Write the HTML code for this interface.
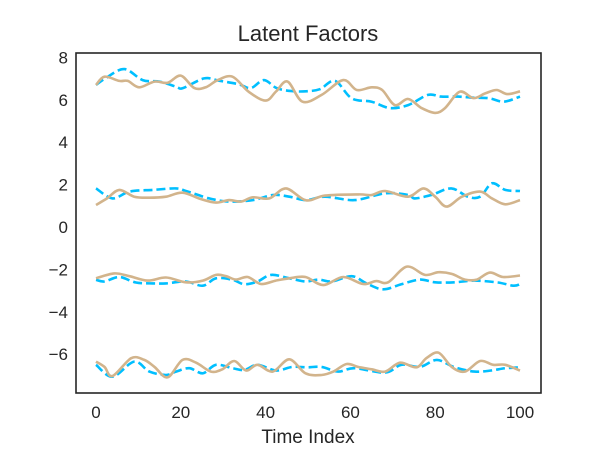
<!DOCTYPE html>
<html><head><meta charset="utf-8"><style>
body{margin:0;background:#fff;}
svg{font-family:"Liberation Sans",sans-serif;}
</style></head><body>
<svg id="chart" width="600" height="450" viewBox="0 0 600 450" xmlns="http://www.w3.org/2000/svg">
<rect x="0" y="0" width="600" height="450" fill="#fff"/>
<text x="308" y="41" font-size="22" fill="#262626" text-anchor="middle">Latent Factors</text>
<text x="308" y="443" font-size="19" fill="#262626" text-anchor="middle">Time Index</text>
<g id="plot"></g>
<rect x="76" y="53" width="465" height="340" fill="none" stroke="#262626" stroke-width="1.6"/>
</svg>
<script>
const xTicks=[0,20,40,60,80,100];
const yTicks=[8,6,4,2,0,-2,-4,-6];
const yTickLabels=["8","6","4","2","0","\u22122","\u22124","\u22126"];
const tanTop=[[0,6.7],[2,7.09],[5.5,6.89],[7.5,6.89],[10.2,6.59],[13.8,6.86],[16.9,6.8],[20,7.14],[23.2,6.55],[26,6.6],[28.7,6.93],[32.2,7.09],[36,6.38],[40,5.96],[42.5,6.4],[45.2,6.86],[48.7,5.91],[53.2,6.23],[58.3,6.93],[61.5,6.46],[65,6.59],[67.5,6.46],[70.5,5.75],[73.6,6.04],[76.8,5.61],[80,5.38],[82.3,5.61],[85.8,6.38],[89,6.08],[91.8,6.3],[94.5,6.46],[97,6.27],[100,6.4]];
const blueTop=[[0,6.7],[2.4,7.04],[6.7,7.45],[11,6.93],[15,6.86],[18.9,6.62],[20.5,6.55],[25.5,7.01],[29,6.9],[33.7,6.73],[36.5,6.55],[39.6,6.93],[42.6,6.55],[46.2,6.41],[49.5,6.4],[52.8,6.5],[56.4,6.89],[60.3,6.07],[65,5.91],[69.3,5.61],[73.6,5.75],[78.3,6.23],[81.4,6.15],[85.4,6.15],[89,6.1],[92.8,6.07],[96.2,5.91],[100,6.15]];
const tanMid=[[0,1.04],[2.6,1.35],[5.5,1.75],[9,1.43],[12.6,1.38],[16.5,1.43],[20.4,1.62],[24.7,1.32],[28.3,1.15],[31.4,1.27],[34.2,1.2],[37,1.4],[40.9,1.35],[44.8,1.82],[49.5,1.26],[54,1.48],[61.9,1.54],[65,1.51],[68.2,1.7],[73.6,1.43],[77.2,1.82],[80,1.43],[82.7,0.96],[86.3,1.43],[90.6,1.67],[93.4,1.35],[96.5,1.07],[100,1.27]];
const blueMid=[[0,1.82],[3.9,1.35],[7.9,1.67],[13.4,1.75],[18.9,1.82],[21.2,1.7],[26.7,1.35],[31.4,1.2],[37,1.27],[41.7,1.51],[45.6,1.43],[49.5,1.27],[54,1.43],[61,1.27],[68.2,1.59],[73.6,1.51],[75.2,1.35],[79.1,1.51],[83.8,1.82],[87.7,1.43],[90.6,1.43],[93.4,2.06],[96.5,1.75],[100,1.7]];
const tanLow=[[0,-2.42],[4.3,-2.19],[7.9,-2.32],[12.2,-2.53],[16.5,-2.38],[21.2,-2.61],[25.2,-2.53],[28.3,-2.26],[30.7,-2.32],[33,-2.48],[35.8,-2.36],[38.9,-2.69],[42.4,-2.53],[45.6,-2.42],[49.4,-2.36],[53.6,-2.74],[58.3,-2.36],[63,-2.69],[66.1,-2.55],[68.9,-2.61],[73.3,-1.87],[77.6,-2.26],[80.8,-2.13],[83.9,-2.21],[87,-2.48],[89.8,-2.48],[92.9,-2.15],[96,-2.36],[100,-2.29]];
const blueLow=[[0,-2.49],[2,-2.57],[5.5,-2.36],[9.4,-2.62],[13.4,-2.66],[16.5,-2.66],[21.2,-2.57],[25.2,-2.77],[28.3,-2.42],[32.2,-2.49],[35,-2.7],[38.1,-2.57],[41.3,-2.26],[45.6,-2.42],[49.4,-2.57],[52.5,-2.48],[55.6,-2.57],[60.3,-2.32],[63.8,-2.66],[67.7,-2.94],[72,-2.7],[76.4,-2.48],[80,-2.61],[84.6,-2.61],[89.3,-2.53],[94.8,-2.62],[98.4,-2.77],[100,-2.7]];
const tanBot=[[0,-6.35],[2,-6.6],[3.9,-7.03],[8.3,-6.19],[11.4,-6.27],[13.8,-6.6],[16.9,-7.09],[20.4,-6.27],[23.6,-6.4],[27.1,-6.82],[29.8,-6.71],[32.6,-6.32],[35.4,-6.77],[38.1,-6.5],[41.7,-6.82],[45.6,-6.24],[49.4,-6.9],[53.2,-6.98],[56,-6.82],[59.1,-6.46],[61.8,-6.6],[65,-6.71],[68.2,-6.82],[71.7,-6.4],[75.6,-6.62],[77.9,-6.19],[80.8,-5.93],[83.9,-6.6],[87,-6.82],[90.6,-6.32],[93.7,-6.5],[96.5,-6.5],[100,-6.77]];
const blueBot=[[0,-6.5],[3.9,-7.06],[9,-6.35],[12.6,-6.82],[16.5,-6.98],[18.9,-6.82],[22,-6.66],[25.2,-6.9],[28.3,-6.5],[32.2,-6.66],[35,-6.74],[38.1,-6.5],[42.4,-6.77],[46.3,-6.6],[49.8,-6.62],[53.2,-6.6],[57.1,-6.82],[61,-6.66],[68.2,-6.87],[72,-6.5],[76.4,-6.6],[80.4,-6.27],[84.6,-6.62],[89.3,-6.82],[93.2,-6.77],[96.5,-6.66],[100,-6.62]];

const NS="http://www.w3.org/2000/svg";
const svg=document.getElementById('chart');
const plot=document.getElementById('plot');
const xs=t=>96+t*4.24;
const ys=v=>227-v*21.2;
function path(data){
  const p=data.map(d=>[xs(d[0]),ys(d[1])]);
  let s="M"+p[0][0].toFixed(1)+","+p[0][1].toFixed(1);
  for(let i=0;i<p.length-1;i++){
    const p0=p[Math.max(0,i-1)],p1=p[i],p2=p[i+1],p3=p[Math.min(p.length-1,i+2)];
    const c1=[p1[0]+(p2[0]-p0[0])/6,p1[1]+(p2[1]-p0[1])/6];
    const c2=[p2[0]-(p3[0]-p1[0])/6,p2[1]-(p3[1]-p1[1])/6];
    s+=" C"+c1[0].toFixed(1)+","+c1[1].toFixed(1)+" "+c2[0].toFixed(1)+","+c2[1].toFixed(1)+" "+p2[0].toFixed(1)+","+p2[1].toFixed(1);
  }
  return s;
}
const series=[["blue-top",blueTop,true],["tan-top",tanTop,false],["blue-mid",blueMid,true],["tan-mid",tanMid,false],["blue-low",blueLow,true],["tan-low",tanLow,false],["blue-bottom",blueBot,true],["tan-bottom",tanBot,false]];
series.forEach(s=>{
  const el=document.createElementNS(NS,'path');
  el.setAttribute('d',path(s[1]));
  el.setAttribute('fill','none');
  el.setAttribute('stroke',s[2]?'#00bfff':'#d2b48c');
  el.setAttribute('stroke-width','2.6');
  if(s[2]) el.setAttribute('stroke-dasharray','9,4');
  
  
  plot.appendChild(el);
});
xTicks.forEach(t=>{
  const el=document.createElementNS(NS,'text');
  el.setAttribute('x',xs(t));el.setAttribute('y',418);
  el.setAttribute('font-size','17');el.setAttribute('fill','#262626');el.setAttribute('text-anchor','middle');
  el.textContent=String(t);
  
  
  svg.appendChild(el);
});
yTicks.forEach((v,i)=>{
  const el=document.createElementNS(NS,'text');
  el.setAttribute('x',68);el.setAttribute('y',ys(v)+6);
  el.setAttribute('font-size','17');el.setAttribute('fill','#262626');el.setAttribute('text-anchor','end');
  el.textContent=yTickLabels[i];
  
  
  svg.appendChild(el);
});
</script>
</body></html>
